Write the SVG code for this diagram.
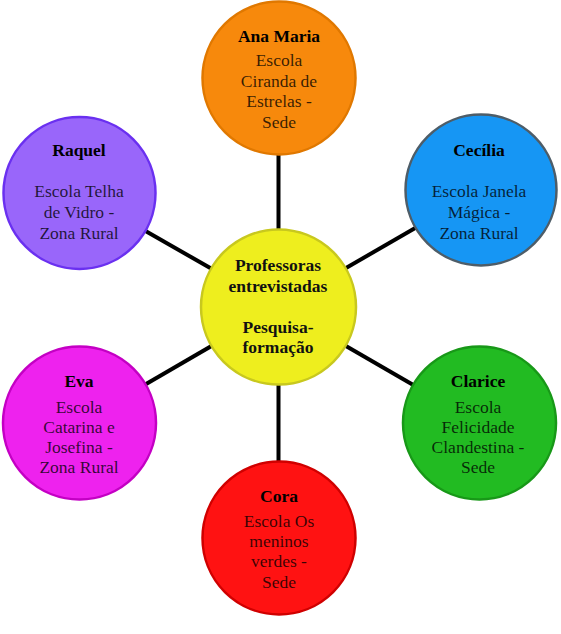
<svg xmlns="http://www.w3.org/2000/svg" width="561" height="634" viewBox="0 0 561 634">
  <style>
    .node { stroke-width: 2.5; }
    .title { font-family: "Liberation Serif", "Times New Roman", serif; font-size: 17.5px; font-weight: bold; fill: #000; text-anchor: middle; }
    .body { font-family: "Liberation Serif", "Times New Roman", serif; font-size: 17.5px; fill: #000; fill-opacity: 0.78; text-anchor: middle; }
    .hub { font-family: "Liberation Serif", "Times New Roman", serif; font-size: 17.5px; font-weight: bold; fill: #111; text-anchor: middle; }
    .link { stroke: #000; stroke-width: 4; }
  </style>
  <rect width="561" height="634" fill="#fff"/>

  <!-- spokes from the hub to each school -->
  <g id="connectors">
    <line class="link" x1="278.5" y1="307" x2="278.5" y2="78"/>
    <line class="link" x1="278.5" y1="307" x2="481" y2="190"/>
    <line class="link" x1="278.5" y1="307" x2="479" y2="423"/>
    <line class="link" x1="278.5" y1="307" x2="278.5" y2="538"/>
    <line class="link" x1="278.5" y1="307" x2="79" y2="423"/>
    <line class="link" x1="278.5" y1="307" x2="79" y2="193"/>
  </g>

  <g id="ana-maria">
    <circle class="node" cx="279" cy="78" r="76.5" fill="#f7890c" stroke="#e07800"/>
    <text class="title" x="279" y="42">Ana Maria</text>
    <text class="body" x="279" y="66">Escola</text>
    <text class="body" x="279" y="87">Ciranda de</text>
    <text class="body" x="279" y="107">Estrelas -</text>
    <text class="body" x="279" y="128">Sede</text>
  </g>

  <g id="cecilia">
    <circle class="node" cx="481" cy="190" r="75.5" fill="#1696f4" stroke="#4e5d68"/>
    <text class="title" x="479" y="156">Cecília</text>
    <text class="body" x="479" y="197">Escola Janela</text>
    <text class="body" x="479" y="218">Mágica -</text>
    <text class="body" x="479" y="239">Zona Rural</text>
  </g>

  <g id="clarice">
    <circle class="node" cx="479.5" cy="423" r="76.5" fill="#22bb22" stroke="#189818"/>
    <text class="title" x="478" y="387">Clarice</text>
    <text class="body" x="478" y="413">Escola</text>
    <text class="body" x="478" y="433">Felicidade</text>
    <text class="body" x="478" y="453">Clandestina -</text>
    <text class="body" x="478" y="473">Sede</text>
  </g>

  <g id="cora">
    <circle class="node" cx="279" cy="538" r="76.5" fill="#ff1212" stroke="#d00000"/>
    <text class="title" x="279" y="502">Cora</text>
    <text class="body" x="279" y="527">Escola Os</text>
    <text class="body" x="279" y="547">meninos</text>
    <text class="body" x="279" y="567">verdes -</text>
    <text class="body" x="279" y="588">Sede</text>
  </g>

  <g id="eva">
    <circle class="node" cx="79.5" cy="423" r="76.5" fill="#ee22ee" stroke="#c400c4"/>
    <text class="title" x="79" y="387">Eva</text>
    <text class="body" x="79" y="413">Escola</text>
    <text class="body" x="79" y="433">Catarina e</text>
    <text class="body" x="79" y="453">Josefina -</text>
    <text class="body" x="79" y="473">Zona Rural</text>
  </g>

  <g id="raquel">
    <circle class="node" cx="79.5" cy="193" r="76" fill="#9966fa" stroke="#6a30f0"/>
    <text class="title" x="79" y="156">Raquel</text>
    <text class="body" x="79" y="197">Escola Telha</text>
    <text class="body" x="79" y="218">de Vidro -</text>
    <text class="body" x="79" y="239">Zona Rural</text>
  </g>

  <g id="hub">
    <circle class="node" cx="278.5" cy="307" r="77.5" fill="#eeee1e" stroke="#c8c81e"/>
    <text class="hub" x="278" y="271">Professoras</text>
    <text class="hub" x="278" y="292">entrevistadas</text>
    <text class="hub" x="278" y="333">Pesquisa-</text>
    <text class="hub" x="278" y="353">formação</text>
  </g>
</svg>
